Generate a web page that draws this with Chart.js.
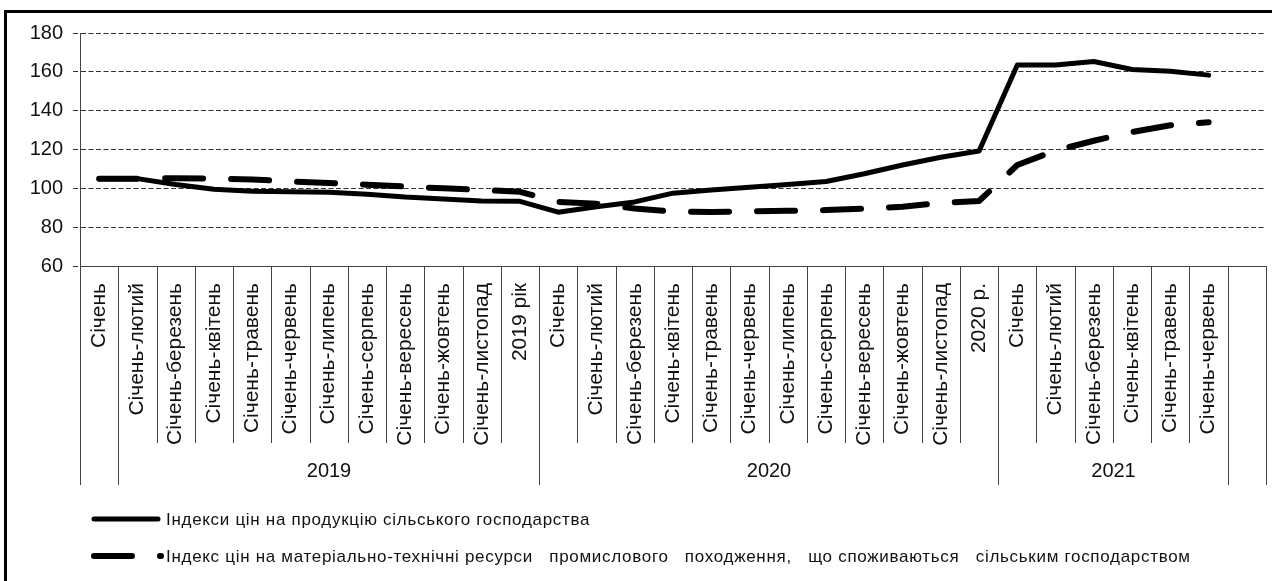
<!DOCTYPE html>
<html lang="uk">
<head>
<meta charset="utf-8">
<title>Індекси цін</title>
<script src="https://cdn.jsdelivr.net/npm/chart.js@4.4.1/dist/chart.umd.min.js"></script>
<style>
    html, body { margin: 0; padding: 0; background: #fff; }
    #contenedor { position: relative; width: 1272px; height: 581px; }
</style>
</head>
<body>
<div id="contenedor"><canvas id="grafico"></canvas></div>
<script>
// Etiquetas de las categorías del eje X (la última columna queda vacía).
const PERIODOS = [
    'Січень',
    'Січень-лютий', 'Січень-березень', 'Січень-квітень', 'Січень-травень', 'Січень-червень',
    'Січень-липень', 'Січень-серпень', 'Січень-вересень', 'Січень-жовтень', 'Січень-листопад', '2019 рік',
    'Січень', 'Січень-лютий', 'Січень-березень', 'Січень-квітень', 'Січень-травень', 'Січень-червень',
    'Січень-липень', 'Січень-серпень', 'Січень-вересень', 'Січень-жовтень', 'Січень-листопад', '2020 р.',
    'Січень', 'Січень-лютий', 'Січень-березень', 'Січень-квітень', 'Січень-травень', 'Січень-червень',
    ''
];
// Grupos de años del segundo nivel del eje X (índice inicial y final de cada grupo).
const ANIOS = ['2019', '2020', '2021'];
const ANIOS_INICIO = [1, 12, 24];
const ANIOS_FIN = [11, 23, 29];
// Escala del eje Y.
const Y_MIN = 60;
const Y_MAX = 180;
const Y_PASO = 20;
// Series de datos.
const INDICE_PRODUCCION = [
    105, 105, 102, 99.5, 98.5, 98.3, 98, 97, 95.5, 94.5, 93.5, 93.3,
    87.7, 90.5, 93, 97.5, 99.2, 100.5, 102, 103.5, 107.5, 112, 116, 119.2,
    163.5, 163.5, 165.3, 161.2, 160.3, 158.3,
    null
];
const INDICE_RECURSOS = [
    105, 105, 105.2, 105, 104.6, 103.5, 102.8, 101.9, 100.9, 100, 99.2, 98.2,
    93, 92, 89.6, 88, 87.8, 88.2, 88.4, 88.8, 89.5, 90.5, 92.5, 93.5,
    112, 119.5, 124.5, 129, 132.5, 134,
    null
];
// Textos de la leyenda.
const LEYENDA = [
    'Індекси цін на продукцію сільського господарства',
    'Індекс цін на матеріально-технічні ресурси   промислового   походження,   що споживаються   сільським господарством'
];

const FUENTE = '"Liberation Sans", Arial, sans-serif';

// Complemento para dibujar el marco, los separadores del eje X, los años y la leyenda.
const decoracion = {
    id: 'decoracion',
    beforeDraw(chart) {
        const ctx = chart.ctx;
        ctx.save();
        ctx.fillStyle = '#000';
        ctx.fillRect(4, 10, 3, chart.height - 10);
        ctx.fillRect(4, 10, chart.width - 4, 3);
        ctx.restore();
    },
    afterDraw(chart) {
        const ctx = chart.ctx;
        const escala = chart.scales.x;
        const area = chart.chartArea;
        const borde = k => Math.round(escala.getPixelForValue(k - 0.5)) + 0.5;
        // Bordes largos: inicio, fin y límites de cada año.
        const largos = new Set([0, PERIODOS.length]);
        ANIOS_INICIO.forEach(i => largos.add(i));
        ANIOS_FIN.forEach(i => largos.add(i + 1));

        ctx.save();
        ctx.strokeStyle = '#444';
        ctx.lineWidth = 1;
        for (let k = 0; k <= PERIODOS.length; k++) {
            const x = borde(k);
            ctx.beginPath();
            ctx.moveTo(x, area.bottom);
            ctx.lineTo(x, area.bottom + (largos.has(k) ? 219 : 177));
            ctx.stroke();
        }
        // Etiquetas de los años.
        ctx.fillStyle = '#111';
        ctx.font = '20px ' + FUENTE;
        ctx.textAlign = 'center';
        ctx.textBaseline = 'middle';
        ANIOS.forEach((anio, i) => {
            const centro = (borde(ANIOS_INICIO[i]) + borde(ANIOS_FIN[i] + 1)) / 2;
            ctx.fillText(anio, centro, area.bottom + 205);
        });
        // Leyenda con la muestra de línea de cada serie.
        chart.data.datasets.forEach((ds, i) => {
            const y = area.bottom + 253 + i * 37;
            ctx.save();
            ctx.strokeStyle = ds.borderColor;
            ctx.lineWidth = ds.borderWidth;
            ctx.lineCap = ds.borderCapStyle || 'butt';
            ctx.setLineDash(ds.borderDash || []);
            ctx.beginPath();
            ctx.moveTo(94, y);
            ctx.lineTo(i === 0 ? 158 : 161, y);
            ctx.stroke();
            ctx.restore();
            ctx.font = '17px ' + FUENTE;
            ctx.letterSpacing = '0.7px';
            ctx.textAlign = 'left';
            ctx.fillStyle = '#111';
            ctx.fillText(LEYENDA[i], 166, y + 1);
        });
        ctx.restore();
    }
};

document.addEventListener('DOMContentLoaded', () => {
    const ctx = document.getElementById('grafico').getContext('2d');
    new Chart(ctx, {
        type: 'line',
        data: {
            labels: PERIODOS,
            datasets: [{
                label: LEYENDA[0],
                data: INDICE_PRODUCCION,
                borderColor: '#000',
                borderWidth: 5,
                borderCapStyle: 'round',
                borderJoinStyle: 'round',
                pointRadius: 0,
                tension: 0,
                fill: false
            }, {
                label: LEYENDA[1],
                data: INDICE_RECURSOS,
                borderColor: '#000',
                borderWidth: 6,
                borderDash: [38, 28],
                borderCapStyle: 'round',
                borderJoinStyle: 'round',
                pointRadius: 0,
                tension: 0,
                fill: false
            }]
        },
        options: {
            responsive: true,
            maintainAspectRatio: false,
            animation: false,
            layout: { padding: { left: 0, top: 33, right: 6, bottom: 0 } },
            plugins: {
                legend: { display: false },
                tooltip: { enabled: false }
            },
            scales: {
                x: {
                    offset: true,
                    grid: { display: false },
                    border: { display: true, color: '#444', width: 1 },
                    ticks: {
                        autoSkip: false,
                        minRotation: 90,
                        maxRotation: 90,
                        padding: 9,
                        color: '#111',
                        font: { family: FUENTE, size: 21 }
                    },
                    afterFit: scale => {
                        scale.height = 315;
                        scale.paddingLeft = 0;
                        scale.paddingRight = 0;
                    }
                },
                y: {
                    min: Y_MIN,
                    max: Y_MAX,
                    grid: {
                        color: '#333',
                        lineWidth: 1,
                        tickLength: 7,
                        tickColor: '#333',
                        tickBorderDash: [5, 2.5]
                    },
                    border: { display: true, color: '#444', width: 1, dash: [5, 2.5] },
                    ticks: {
                        stepSize: Y_PASO,
                        padding: 10,
                        color: '#111',
                        font: { family: FUENTE, size: 20 }
                    },
                    afterFit: scale => { scale.width = 80; }
                }
            }
        },
        plugins: [decoracion]
    });
});
</script>
</body>
</html>
